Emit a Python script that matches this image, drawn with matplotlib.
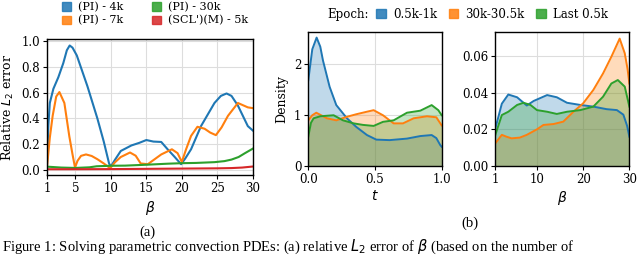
import numpy as np
import matplotlib
matplotlib.use("Agg")
import matplotlib.pyplot as plt
from matplotlib.patches import Patch

plt.rcParams['font.family'] = 'DejaVu Serif'
plt.rcParams['mathtext.fontset'] = 'dejavusans'
plt.rcParams['font.size'] = 8.5

# --- (a) relative L2 error vs beta ---
pi4k_x = [1, 1.2, 1.4, 1.9, 2.6, 3.3, 3.8, 4.2, 4.6, 5.2, 6.7, 8.1, 9.0, 9.75, 10, 10.6, 11.4,
          12.9, 14.0, 15.0, 16.0, 17.1, 18.0, 19.0, 19.9, 20.5, 21.3, 22.7, 24.6, 25.5, 26.3,
          27.0, 27.9, 28.6, 29.3, 30]
pi4k_y = [0.03, 0.35, 0.52, 0.63, 0.72, 0.83, 0.93, 0.967, 0.95, 0.89, 0.65, 0.40, 0.22, 0.05,
          0.026, 0.08, 0.147, 0.19, 0.21, 0.232, 0.22, 0.217, 0.16, 0.10, 0.044, 0.09, 0.16,
          0.34, 0.52, 0.575, 0.594, 0.575, 0.50, 0.42, 0.34, 0.306]

pi7k_x = [1, 1.4, 1.8, 2.3, 2.75, 3.45, 4.15, 4.6, 4.95, 5.3, 5.8, 6.5, 7.3, 8.1, 9.0, 9.9,
          10.6, 11.4, 12.7, 13.5, 14.2, 15.2, 17.1, 18.6, 19.4, 20.0, 20.6, 21.3, 22.2, 23.2,
          24.0, 24.8, 25.6, 26.5, 27.9, 29.3, 30]
pi7k_y = [0.02, 0.25, 0.42, 0.57, 0.605, 0.52, 0.26, 0.12, 0.018, 0.07, 0.109, 0.12, 0.108,
          0.083, 0.05, 0.013, 0.06, 0.10, 0.135, 0.11, 0.05, 0.044, 0.12, 0.16, 0.13, 0.062,
          0.16, 0.264, 0.335, 0.32, 0.29, 0.27, 0.33, 0.42, 0.52, 0.486, 0.48]

pi30k_x = [1, 3, 5, 7, 8, 10, 12, 15, 18, 20, 22, 24.6, 26, 27, 28, 28.9, 30]
pi30k_y = [0.025, 0.018, 0.015, 0.02, 0.028, 0.032, 0.033, 0.04, 0.048, 0.052, 0.054, 0.060,
           0.068, 0.08, 0.10, 0.13, 0.165]

scl_x = [1, 5, 10, 15, 20, 25, 27, 28.5, 30]
scl_y = [0.005, 0.005, 0.006, 0.008, 0.010, 0.012, 0.014, 0.018, 0.026]

# --- (b) densities over t and beta ---
t_e1 = [0, 0.03, 0.0625, 0.09, 0.11, 0.16, 0.21, 0.29, 0.36, 0.44, 0.51, 0.61, 0.74, 0.84,
        0.925, 0.96, 0.99, 1.0]
d_t_e1 = [1.69, 2.3, 2.53, 2.35, 2.08, 1.56, 1.2, 0.94, 0.77, 0.61, 0.52, 0.51, 0.54, 0.59,
          0.61, 0.55, 0.41, 0.38]
t_e2 = [0, 0.03, 0.06, 0.14, 0.21, 0.29, 0.36, 0.44, 0.49, 0.56, 0.64, 0.71, 0.79, 0.89,
        0.96, 0.99, 1.0]
d_t_e2 = [0.9, 1.0, 1.05, 0.94, 0.9, 0.97, 1.02, 1.07, 1.1, 1.0, 0.84, 0.84, 0.94, 0.98,
          0.96, 0.84, 0.8]
t_e3 = [0, 0.02, 0.04, 0.09, 0.19, 0.26, 0.34, 0.41, 0.49, 0.56, 0.64, 0.74, 0.84, 0.925,
        0.975, 1.0]
d_t_e3 = [0.58, 0.85, 0.94, 0.98, 1.0, 0.9, 0.84, 0.81, 0.79, 0.87, 0.9, 1.05, 1.09, 1.2,
          1.1, 1.0]

b_e1 = [1, 2.4, 3.8, 5.7, 7.8, 9.3, 12.2, 14.3, 16.5, 19.4, 22.2, 25.1, 27.3, 28.7, 29.5, 30]
d_b_e1 = [0.0205, 0.034, 0.039, 0.0375, 0.033, 0.0355, 0.0387, 0.0375, 0.0345, 0.0333,
          0.0324, 0.031, 0.0305, 0.028, 0.022, 0.016]
b_e2 = [1, 2.4, 3.4, 4.5, 6.3, 7.8, 10, 11.4, 13.6, 15.7, 17.9, 20, 22.2, 24.3, 26.1, 27.9,
        29, 29.6, 30]
d_b_e2 = [0.0124, 0.017, 0.016, 0.0151, 0.0155, 0.017, 0.02, 0.0224, 0.0229, 0.0242, 0.0296,
          0.0342, 0.0415, 0.0505, 0.0596, 0.0695, 0.0615, 0.053, 0.045]
b_e3 = [1, 2.4, 3.8, 5.7, 7.1, 8.6, 10, 12.2, 14.3, 16.5, 19.4, 22.2, 24.3, 26.1, 27.5, 29, 30]
d_b_e3 = [0.017, 0.0278, 0.0296, 0.0333, 0.0345, 0.0333, 0.0305, 0.0296, 0.0284, 0.0296,
          0.0305, 0.0324, 0.0378, 0.045, 0.0469, 0.0433, 0.0324]

a_labels = ["(PI) - 4k", "(PI) - 7k", "(PI) - 30k", "(SCL')(M) - 5k"]
epoch_labels = ["0.5k-1k", "30k-30.5k", "Last 0.5k"]
colors = ["#1f77b4", "#ff7f0e", "#2ca02c", "#d62728"]


def style_axes(ax):
    ax.grid(True, color="#dddddd", linewidth=0.8)
    ax.set_axisbelow(True)
    for s in ax.spines.values():
        s.set_color("black")
        s.set_linewidth(1.0)
    ax.tick_params(direction="out", length=3, width=0.8, pad=2, labelsize=8.5)


fig = plt.figure(figsize=(6.4, 2.57), dpi=100)

# panel (a)
ax_a = fig.add_axes([0.0734, 0.319, 0.3216, 0.528])
for xs, ys, c in zip([pi4k_x, pi7k_x, pi30k_x, scl_x], [pi4k_y, pi7k_y, pi30k_y, scl_y], colors):
    ax_a.plot(xs, ys, color=c, lw=1.5)
ax_a.set_xlim(1, 30)
ax_a.set_ylim(-0.04, 1.015)
ax_a.set_xticks([1, 5, 10, 15, 20, 25, 30])
ax_a.set_yticks([0.0, 0.2, 0.4, 0.6, 0.8, 1.0])
ax_a.set_xlabel(r"$\beta$", fontsize=10, labelpad=3)
ax_a.set_ylabel(r"Relative $L_2$ error", fontsize=9, labelpad=4)
style_axes(ax_a)

handles_a = [Patch(facecolor=c, edgecolor=c, alpha=0.85) for c in colors]
fig.legend(handles_a, a_labels, ncol=2, loc="upper left", bbox_to_anchor=(0.094, 1.0),
           frameon=False, handlelength=0.8, handleheight=0.8, handletextpad=0.6,
           columnspacing=2.6, labelspacing=0.25, fontsize=8,
           borderpad=0.1, borderaxespad=0.1)

# panel (b) - t
ax_t = fig.add_axes([0.4817, 0.354, 0.2084, 0.5215])
for xs, ys, c in zip([t_e1, t_e2, t_e3], [d_t_e1, d_t_e2, d_t_e3], colors):
    ax_t.fill_between(xs, ys, color=c, alpha=0.28, lw=0)
    ax_t.plot(xs, ys, color=c, lw=1.4)
ax_t.set_xlim(0, 1)
ax_t.set_ylim(0, 2.64)
ax_t.set_xticks([0.0, 0.5, 1.0])
ax_t.set_yticks([0, 1, 2])
ax_t.set_xlabel(r"$t$", fontsize=10, labelpad=2)
ax_t.set_ylabel("Density", fontsize=9, labelpad=4)
style_axes(ax_t)

# panel (b) - beta
ax_b = fig.add_axes([0.774, 0.354, 0.2094, 0.5215])
for xs, ys, c in zip([b_e1, b_e2, b_e3], [d_b_e1, d_b_e2, d_b_e3], colors):
    ax_b.fill_between(xs, ys, color=c, alpha=0.28, lw=0)
    ax_b.plot(xs, ys, color=c, lw=1.4)
ax_b.set_xlim(1, 30)
ax_b.set_ylim(0, 0.0731)
ax_b.set_xticks([1, 10, 20, 30])
ax_b.set_yticks([0.0, 0.02, 0.04, 0.06])
ax_b.set_yticklabels(["0.00", "0.02", "0.04", "0.06"])
ax_b.set_xlabel(r"$\beta$", fontsize=10, labelpad=2)
style_axes(ax_b)

fig.text(0.511, 0.945, "Epoch:", fontsize=8.5, ha="left", va="center")
handles_b = [Patch(facecolor=c, edgecolor=c, alpha=0.85) for c in colors[:3]]
fig.legend(handles_b, epoch_labels, ncol=3, loc="center left", bbox_to_anchor=(0.588, 0.945),
           frameon=False, handlelength=0.8, handleheight=0.8, handletextpad=0.6,
           columnspacing=1.0, fontsize=8.5, borderpad=0.0, borderaxespad=0.0)

# sub-captions
fig.text(0.23, 0.097, "(a)", family="Liberation Serif", fontsize=10.5, ha="center", va="center")
fig.text(0.734, 0.132, "(b)", family="Liberation Serif", fontsize=10.5, ha="center", va="center")
fig.text(0.003, 0.003, r"Figure 1: Solving parametric convection PDEs: (a) relative $L_2$ error of $\beta$ (based on the number of",
         family="Liberation Serif", fontsize=10.5, ha="left", va="bottom")

fig.savefig("out.png", dpi=100)
